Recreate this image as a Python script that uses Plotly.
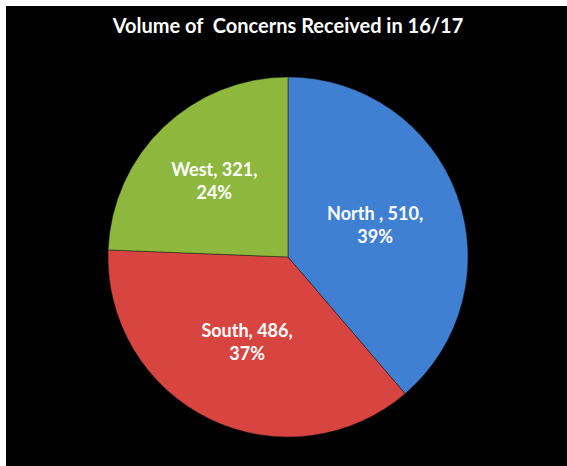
import plotly.graph_objects as go

regions = ["North ", "South", "West"]
values = [510, 486, 321]
colors = ["#4080d2", "#d8443f", "#8db83d"]

fig = go.Figure(go.Pie(
    labels=regions,
    values=values,
    sort=False,
    direction="clockwise",
    rotation=0,
    marker=dict(colors=colors, line=dict(color="#1a1a1a", width=0.5)),
    texttemplate="%{label}, %{value},<br>%{percent:.0%}",
    textposition="inside",
    insidetextorientation="horizontal",
    textfont=dict(family="Lato", size=18, color="white", weight="bold"),
    showlegend=False,
    domain=dict(x=[0.1818, 0.8235], y=[0.063, 0.8457]),
    hoverinfo="label+value+percent",
))

fig.update_layout(
    width=567, height=466,
    margin=dict(l=6, t=6, r=0, b=0),
    paper_bgcolor="white",
    plot_bgcolor="black",
    title=dict(text="Volume of\u00a0\u00a0Concerns Received in 16/17",
               x=0.508, xanchor="center", y=0.944, yanchor="middle",
               font=dict(family="Lato", size=20, color="white", weight="bold")),
    shapes=[dict(type="rect", xref="paper", yref="paper", x0=0, y0=0, x1=1, y1=1,
                 fillcolor="black", line=dict(width=0), layer="below")],
)

fig.write_html("out.html", config={"displayModeBar": False},
               post_script="document.body.style.margin='0';")
